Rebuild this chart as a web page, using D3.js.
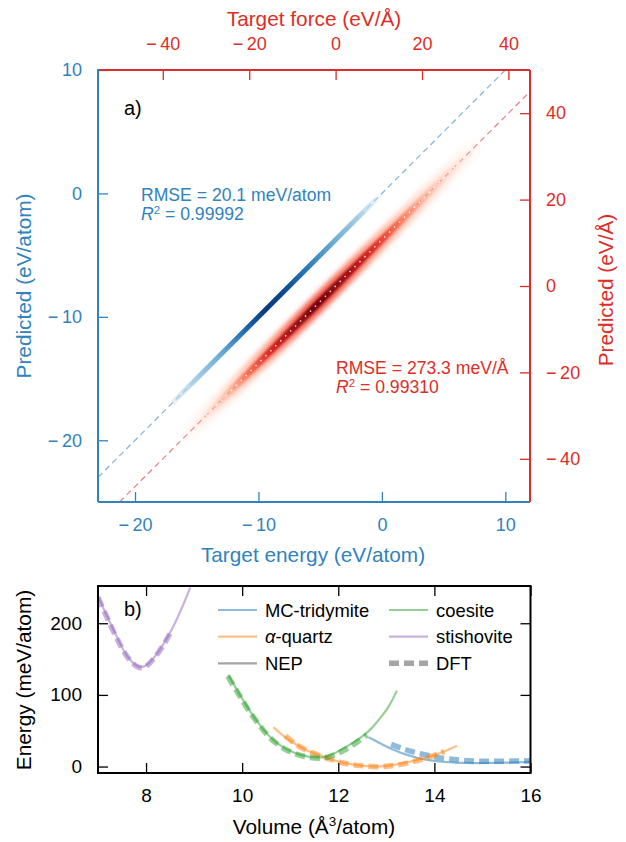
<!DOCTYPE html>
<html lang="en">
<head>
<meta charset="utf-8">
<title>NEP parity plot and E-V curves</title>
<script src="https://cdn.jsdelivr.net/npm/d3@7/dist/d3.min.js"></script>
<style>
  body { margin: 0; background: #fff; }
  svg text { font-family: "Liberation Sans", Arial, Helvetica, sans-serif; }
</style>
</head>
<body>
<script>
// ---- panel a data ----
var energyTicks = [-20, -10, 0, 10];
var forceTicks = [-40, -20, 0, 20, 40];
// density along the energy parity line (target energy, relative density)
var energyBand = [-17, -15, -13, -11, -9.5, -8, -6, -4, -2, -0.5, 0];
var energyDensity = [0.1, 0.25, 0.45, 0.8, 1.0, 0.95, 0.7, 0.45, 0.25, 0.1, 0.02];
// density along the force parity line (target force, relative density)
var forceBand = [-36, -30, -25, -20, -15, -10, -5, 0, 5, 10, 15, 20, 25, 30, 34];
var forceDensity = [0, 0.1, 0.25, 0.45, 0.68, 0.88, 1.0, 0.95, 0.8, 0.6, 0.42, 0.28, 0.16, 0.08, 0];

// ---- panel b data (volume A^3/atom, energy meV/atom) ----
var volumeTicks = [8, 10, 12, 14, 16];
var energyBTicks = [0, 100, 200];
var tridymiteNEP = [[12.63,41],[12.8,35],[13.0,28],[13.2,22],[13.4,17],[13.6,13],[13.8,10],[14.0,8],[14.3,6],[14.6,5],[14.9,4.8],[15.2,5],[15.5,5.5],[15.8,6],[16.0,6.5]];
var tridymiteDFT = [[13.1,31],[13.3,26],[13.5,21.5],[13.7,18],[13.9,15],[14.1,12.5],[14.3,10.5],[14.6,8.5],[14.9,7.5],[15.2,7.3],[15.5,7.5],[15.8,7.8],[16.0,8]];
var quartzNEP = [[10.65,55],[10.8,46],[11.0,36],[11.2,28],[11.4,21],[11.6,16],[11.8,11],[12.0,7],[12.2,4],[12.4,2],[12.6,0.5],[12.8,0],[13.0,1],[13.2,3],[13.4,5.5],[13.6,8.5],[13.8,12],[14.0,16],[14.2,21],[14.47,29]];
var quartzDFT = [[10.9,43],[11.1,32],[11.3,24],[11.5,18],[11.7,13],[11.9,9],[12.1,5],[12.3,2.5],[12.5,1],[12.7,0],[12.9,0],[13.1,1],[13.3,3],[13.5,6],[13.7,9.5],[13.9,13.5],[14.1,18],[14.2,21]];
var coesiteNEP = [[9.71,128],[9.9,106],[10.1,84],[10.3,64],[10.5,47],[10.7,34],[10.9,25],[11.1,19],[11.3,15],[11.5,13],[11.7,13],[11.9,18],[12.1,25],[12.3,33],[12.5,42],[12.7,54],[12.9,70],[13.05,84],[13.22,106]];
var coesiteDFT = [[9.7,126],[9.9,104],[10.1,82],[10.3,63],[10.5,46],[10.7,33],[10.9,24],[11.1,18],[11.3,14],[11.5,12],[11.7,12],[11.9,16],[12.1,22],[12.3,30],[12.6,44]];
var stishoviteNEP = [[7.0,238],[7.2,208],[7.4,180],[7.6,155],[7.8,141],[7.9,139],[8.0,141],[8.2,155],[8.4,175],[8.6,200],[8.8,230],[8.92,250]];
var stishoviteDFT = [[7.0,236],[7.2,206],[7.4,178],[7.6,154],[7.8,140],[7.9,138],[8.0,140],[8.2,154],[8.4,174],[8.53,190]];

var blue = "#3182bd", red = "#de2d26";
var svg = d3.select("body").append("svg").attr("width", 626).attr("height", 842);
var defs = svg.append("defs");

function fmt(d) { return d < 0 ? "\u2212\u2009" + Math.abs(d) : String(d); }

// ================= panel a =================
var a = { left: 98, right: 530, top: 70, bottom: 502 };
var xE = d3.scaleLinear().domain([-23, 12]).range([a.left, a.right]);
var yE = d3.scaleLinear().domain([-25, 10]).range([a.bottom, a.top]);
var xF = d3.scaleLinear().domain([-55, 45]).range([a.left, a.right]);
var yF = d3.scaleLinear().domain([-50, 50]).range([a.bottom, a.top]);

defs.append("clipPath").attr("id", "clipA").append("rect")
   .attr("x", a.left).attr("y", a.top).attr("width", a.right - a.left).attr("height", a.bottom - a.top);
defs.append("filter").attr("id", "blurWide").attr("x", "-20%").attr("y", "-20%").attr("width", "140%").attr("height", "140%")
   .append("feGaussianBlur").attr("stdDeviation", 2.5);
defs.append("filter").attr("id", "blurNarrow").attr("x", "-20%").attr("y", "-20%").attr("width", "140%").attr("height", "140%")
   .append("feGaussianBlur").attr("stdDeviation", 1);

var plotA = svg.append("g").attr("clip-path", "url(#clipA)");

// parity lines
var eLo = Math.max(xE.domain()[0], yE.domain()[0]), eHi = Math.min(xE.domain()[1], yE.domain()[1]);
var fLo = Math.max(xF.domain()[0], yF.domain()[0]), fHi = Math.min(xF.domain()[1], yF.domain()[1]);
plotA.append("line")
   .attr("x1", xE(eLo)).attr("y1", yE(eLo)).attr("x2", xE(eHi)).attr("y2", yE(eHi))
   .attr("stroke", blue).attr("stroke-opacity", 0.6).attr("stroke-width", 1.2).attr("stroke-dasharray", "6,4");
plotA.append("line")
   .attr("x1", xF(fLo)).attr("y1", yF(fLo)).attr("x2", xF(fHi)).attr("y2", yF(fHi))
   .attr("stroke", red).attr("stroke-opacity", 0.6).attr("stroke-width", 1.2).attr("stroke-dasharray", "6,4");

// gradient helper: stops placed along the diagonal from the density arrays
function bandGradient(id, xs, dens, xScale, yScale, colorFn, opFn) {
   var lo = xs[0], hi = xs[xs.length - 1];
   var g = defs.append("linearGradient").attr("id", id).attr("gradientUnits", "userSpaceOnUse")
      .attr("x1", xScale(lo)).attr("y1", yScale(lo)).attr("x2", xScale(hi)).attr("y2", yScale(hi));
   xs.forEach(function(v, i) {
      g.append("stop").attr("offset", (v - lo) / (hi - lo))
         .attr("stop-color", colorFn(dens[i])).attr("stop-opacity", opFn(dens[i]));
   });
}
function bandLine(xs, xScale, yScale) {
   var lo = xs[0], hi = xs[xs.length - 1];
   return d3.line()([[xScale(lo), yScale(lo)], [xScale(hi), yScale(hi)]]);
}

// force band (red)
bandGradient("redHalo", forceBand, forceDensity, xF, yF,
   function(d) { return d3.interpolateReds(0.1 + 0.5 * d); },
   function(d) { return Math.min(1, Math.sqrt(d) * 0.9); });
bandGradient("redCore", forceBand, forceDensity, xF, yF,
   function(d) { return d3.interpolateReds(0.15 + 0.82 * d); },
   function(d) { return Math.min(1, d * 2); });
plotA.append("path").attr("d", bandLine(forceBand, xF, yF))
   .attr("stroke", "url(#redHalo)").attr("stroke-width", 17).attr("fill", "none").attr("filter", "url(#blurWide)");
plotA.append("path").attr("d", bandLine(forceBand, xF, yF))
   .attr("stroke", "url(#redCore)").attr("stroke-width", 7).attr("fill", "none").attr("filter", "url(#blurNarrow)");
var fIn = [forceBand[1], forceBand[forceBand.length - 2]];
plotA.append("line")
   .attr("x1", xF(fIn[0])).attr("y1", yF(fIn[0])).attr("x2", xF(fIn[1])).attr("y2", yF(fIn[1]))
   .attr("stroke", "#fff").attr("stroke-opacity", 0.85).attr("stroke-width", 1.5).attr("stroke-dasharray", "1.5,5.5");

// energy band (blue)
bandGradient("blueBand", energyBand, energyDensity, xE, yE,
   function(d) { return d3.interpolateBlues(0.15 + 0.8 * d); },
   function(d) { return Math.min(1, d * 4); });
plotA.append("path").attr("d", bandLine(energyBand, xE, yE))
   .attr("stroke", "url(#blueBand)").attr("stroke-width", 5).attr("fill", "none");

// axes
function styleAxis(g, color, size) {
   g.select(".domain").remove();
   g.selectAll("line").attr("stroke", color).attr("stroke-width", 1.3);
   g.selectAll("text").attr("fill", color).attr("font-size", size);
}
svg.append("g").attr("transform", "translate(0," + a.bottom + ")")
   .call(d3.axisBottom(xE).tickValues(energyTicks).tickSizeInner(-10).tickSizeOuter(0).tickPadding(16).tickFormat(fmt))
   .call(styleAxis, blue, 18);
svg.append("g").attr("transform", "translate(" + a.left + ",0)")
   .call(d3.axisLeft(yE).tickValues(energyTicks).tickSizeInner(-10).tickSizeOuter(0).tickPadding(16).tickFormat(fmt))
   .call(styleAxis, blue, 18);
svg.append("g").attr("transform", "translate(0," + a.top + ")")
   .call(d3.axisTop(xF).tickValues(forceTicks).tickSizeInner(-10).tickSizeOuter(0).tickPadding(20).tickFormat(fmt))
   .call(styleAxis, red, 18);
svg.append("g").attr("transform", "translate(" + a.right + ",0)")
   .call(d3.axisRight(yF).tickValues(forceTicks).tickSizeInner(-10).tickSizeOuter(0).tickPadding(16).tickFormat(fmt))
   .call(styleAxis, red, 18);

// spines
svg.append("line").attr("x1", a.left).attr("x2", a.right).attr("y1", a.top).attr("y2", a.top).attr("stroke", red).attr("stroke-width", 2);
svg.append("line").attr("x1", a.right).attr("x2", a.right).attr("y1", a.top).attr("y2", a.bottom).attr("stroke", red).attr("stroke-width", 2);
svg.append("line").attr("x1", a.left).attr("x2", a.left).attr("y1", a.top - 1).attr("y2", a.bottom).attr("stroke", blue).attr("stroke-width", 2);
svg.append("line").attr("x1", a.left).attr("x2", a.right).attr("y1", a.bottom).attr("y2", a.bottom).attr("stroke", blue).attr("stroke-width", 2);

// labels
svg.append("text").attr("x", 314).attr("y", 26).attr("text-anchor", "middle")
   .attr("font-size", 20.8).attr("fill", red).text("Target force (eV/\u00C5)");
svg.append("text").attr("x", 313).attr("y", 562).attr("text-anchor", "middle")
   .attr("font-size", 20.8).attr("fill", blue).text("Target energy (eV/atom)");
svg.append("text").attr("transform", "translate(31," + 286 + ") rotate(-90)").attr("text-anchor", "middle")
   .attr("font-size", 20.8).attr("fill", blue).text("Predicted (eV/atom)");
svg.append("text").attr("transform", "translate(613," + 290 + ") rotate(-90)").attr("text-anchor", "middle")
   .attr("font-size", 20.8).attr("fill", red).text("Predicted (eV/\u00C5)");
svg.append("text").attr("x", 124).attr("y", 115).attr("font-size", 20).attr("fill", "#000").text("a)");

function statText(x, y, color, rmse, r2) {
   svg.append("text").attr("x", x).attr("y", y).attr("font-size", 17.6).attr("fill", color).text(rmse);
   var t = svg.append("text").attr("x", x).attr("y", y + 19).attr("font-size", 17.6).attr("fill", color);
   t.append("tspan").attr("font-style", "italic").text("R");
   t.append("tspan").attr("dy", -6).attr("font-size", 11.5).text("2");
   t.append("tspan").attr("dy", 6).text("\u00A0= " + r2);
}
statText(141, 201, blue, "RMSE = 20.1 meV/atom", "0.99992");
statText(336, 374, red, "RMSE = 273.3 meV/\u00C5", "0.99310");

// ================= panel b =================
var b = { left: 98, right: 530.5, top: 586, bottom: 773 };
var xV = d3.scaleLinear().domain([7, 16]).range([b.left, b.right]);
var yV = d3.scaleLinear().domain([-9, 252]).range([b.bottom, b.top]);

defs.append("clipPath").attr("id", "clipB").append("rect")
   .attr("x", b.left).attr("y", b.top).attr("width", b.right - b.left).attr("height", b.bottom - b.top);

var phases = [
   { name: "MC-tridymite", color: "#1f77b4", nep: tridymiteNEP, dft: tridymiteDFT },
   { name: "\u03B1-quartz", color: "#ff7f0e", nep: quartzNEP, dft: quartzDFT },
   { name: "coesite", color: "#2ca02c", nep: coesiteNEP, dft: coesiteDFT },
   { name: "stishovite", color: "#9467bd", nep: stishoviteNEP, dft: stishoviteDFT }
];
var line = d3.line().x(function(d) { return xV(d[0]); }).y(function(d) { return yV(d[1]); })
   .curve(d3.curveCatmullRom.alpha(0.5));

var plotB = svg.append("g").attr("clip-path", "url(#clipB)");
phases.forEach(function(p) {
   plotB.append("path").attr("d", line(p.dft)).attr("fill", "none")
      .attr("stroke", p.color).attr("stroke-opacity", 0.5).attr("stroke-width", 5.5).attr("stroke-dasharray", "10,5");
   plotB.append("path").attr("d", line(p.nep)).attr("fill", "none")
      .attr("stroke", p.color).attr("stroke-opacity", 0.5).attr("stroke-width", 2.2);
});

function styleAxisB(g, size) {
   g.select(".domain").remove();
   g.selectAll("line").attr("stroke", "#000").attr("stroke-width", 1.3);
   g.selectAll("text").attr("fill", "#000").attr("font-size", size);
}
svg.append("g").attr("transform", "translate(0," + b.bottom + ")")
   .call(d3.axisBottom(xV).tickValues(volumeTicks).tickSizeInner(-10).tickSizeOuter(0).tickPadding(16))
   .call(styleAxisB, 19);
svg.append("g").attr("transform", "translate(" + b.left + ",0)")
   .call(d3.axisLeft(yV).tickValues(energyBTicks).tickSizeInner(-10).tickSizeOuter(0).tickPadding(16))
   .call(styleAxisB, 19);
svg.append("g").attr("transform", "translate(0," + b.top + ")")
   .call(d3.axisTop(xV).tickValues(volumeTicks).tickSizeInner(-10).tickSizeOuter(0).tickFormat(""))
   .call(styleAxisB, 19);
svg.append("g").attr("transform", "translate(" + b.right + ",0)")
   .call(d3.axisRight(yV).tickValues(energyBTicks).tickSizeInner(-10).tickSizeOuter(0).tickFormat(""))
   .call(styleAxisB, 19);
svg.append("rect").attr("x", b.left).attr("y", b.top).attr("width", b.right - b.left).attr("height", b.bottom - b.top)
   .attr("fill", "none").attr("stroke", "#000").attr("stroke-width", 2);

svg.append("text").attr("x", 124).attr("y", 616).attr("font-size", 20).text("b)");
var vl = svg.append("text").attr("x", 314).attr("y", 834).attr("text-anchor", "middle").attr("font-size", 20.8);
vl.append("tspan").text("Volume (\u00C5");
vl.append("tspan").attr("dy", -8).attr("font-size", 13.5).text("3");
vl.append("tspan").attr("dy", 8).text("/atom)");
svg.append("text").attr("transform", "translate(31,680) rotate(-90)").attr("text-anchor", "middle")
   .attr("font-size", 20.8).text("Energy (meV/atom)");

// legend
var legendItems = [
   { label: "MC-tridymite", color: "#1f77b4", dash: false, col: 0, row: 0 },
   { label: "\u03B1-quartz", color: "#ff7f0e", dash: false, col: 0, row: 1 },
   { label: "NEP", color: "#7f7f7f", dash: false, col: 0, row: 2 },
   { label: "coesite", color: "#2ca02c", dash: false, col: 1, row: 0 },
   { label: "stishovite", color: "#9467bd", dash: false, col: 1, row: 1 },
   { label: "DFT", color: "#7f7f7f", dash: true, col: 1, row: 2 }
];
var colX = [218, 389], rowY = [610, 636.7, 663.3];
legendItems.forEach(function(d) {
   var x0 = colX[d.col], y0 = rowY[d.row];
   svg.append("line").attr("x1", x0).attr("x2", x0 + 39).attr("y1", y0).attr("y2", y0)
      .attr("stroke", d.color).attr("stroke-opacity", d.color === "#7f7f7f" ? 0.7 : 0.5)
      .attr("stroke-width", d.dash ? 5.5 : 2.2).attr("stroke-dasharray", d.dash ? "10,5" : null);
   var t = svg.append("text").attr("x", x0 + 47).attr("y", y0 + 6.5).attr("font-size", 18.4);
   if (d.label.charAt(0) === "\u03B1") {
      t.append("tspan").attr("font-style", "italic").text("\u03B1");
      t.append("tspan").text(d.label.slice(1));
   } else {
      t.text(d.label);
   }
});
</script>
</body>
</html>
